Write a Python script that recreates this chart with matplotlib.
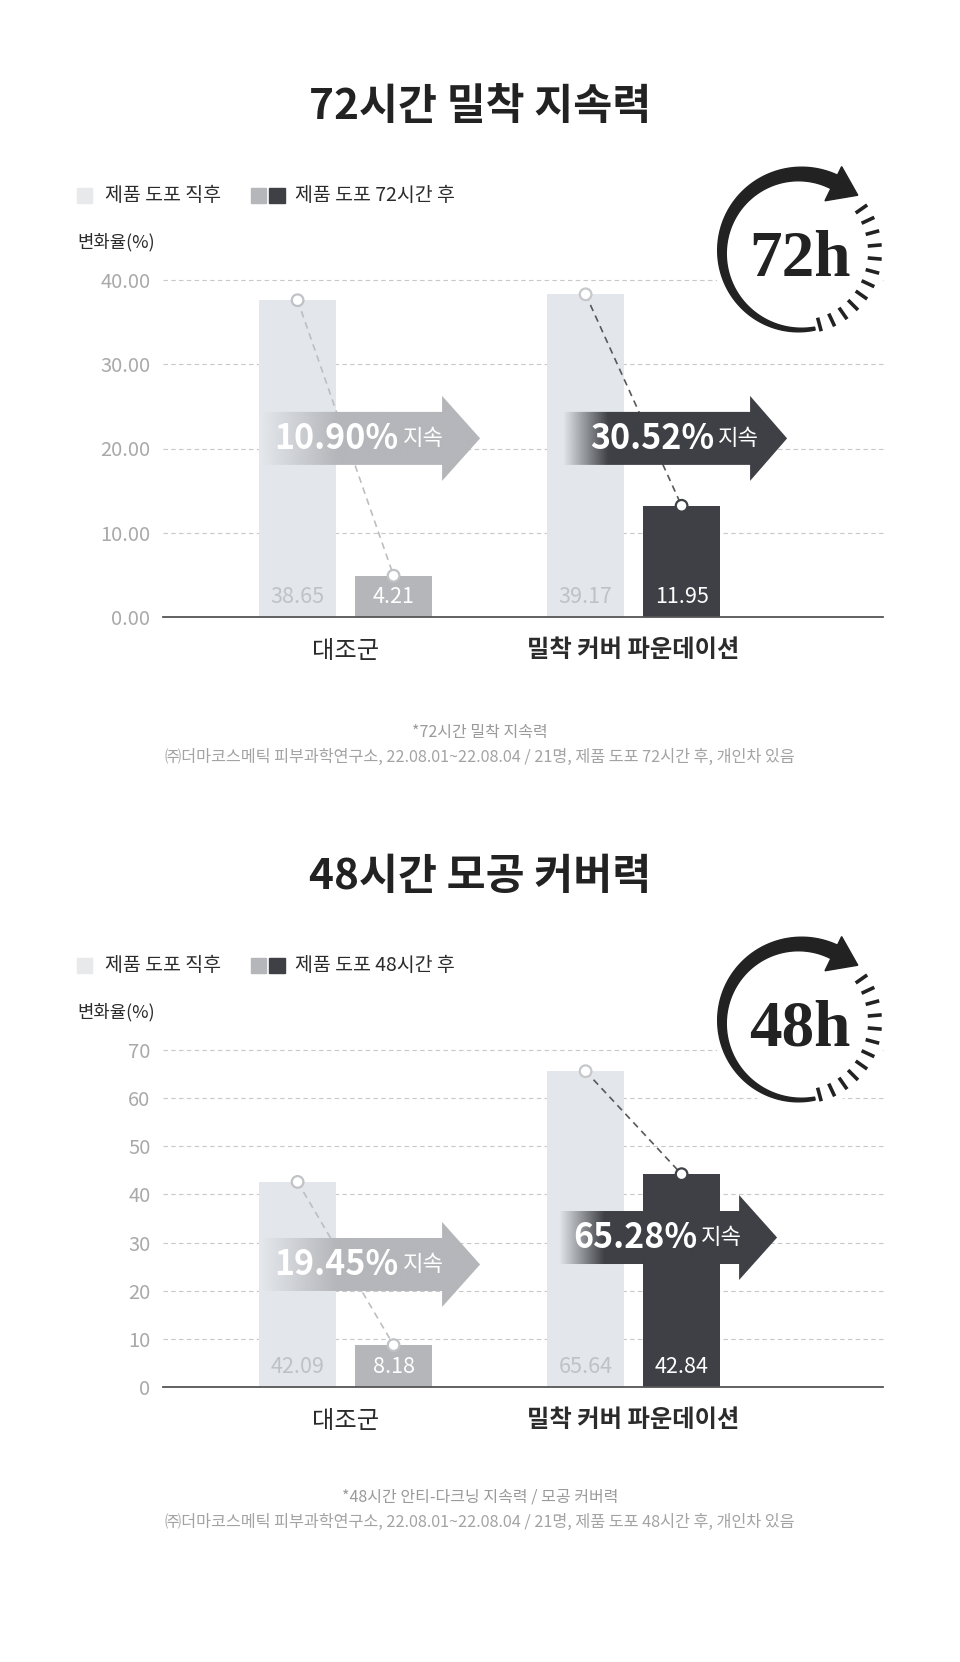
import numpy as np
import matplotlib
matplotlib.use('Agg')
import matplotlib.pyplot as plt
from matplotlib.patches import Polygon, Circle, Rectangle
from matplotlib.colors import to_rgb

plt.rcParams['font.family'] = ['Noto Sans CJK KR', 'DejaVu Sans']

# ---------------- data ----------------
groups = ['대조군', '밀착 커버 파운데이션']
legend_before = '제품 도포 직후'
y_label = '변화율(%)'

# 72시간 밀착 지속력 (bar heights as drawn, labels as printed)
title_72 = '72시간 밀착 지속력'
legend_after_72 = '제품 도포 72시간 후'
before_72 = [37.6, 38.3]
after_72 = [4.9, 13.2]
before_lab_72 = ['38.65', '39.17']
after_lab_72 = ['4.21', '11.95']
keep_72 = ['10.90%', '30.52%']
yticks_72 = [0, 10, 20, 30, 40]
yticklabels_72 = ['0.00', '10.00', '20.00', '30.00', '40.00']
note_72 = ['*72시간 밀착 지속력',
           '㈜더마코스메틱 피부과학연구소, 22.08.01~22.08.04 / 21명, 제품 도포 72시간 후, 개인차 있음']

# 48시간 모공 커버력
title_48 = '48시간 모공 커버력'
legend_after_48 = '제품 도포 48시간 후'
before_48 = [42.6, 65.6]
after_48 = [8.7, 44.2]
before_lab_48 = ['42.09', '65.64']
after_lab_48 = ['8.18', '42.84']
keep_48 = ['19.45%', '65.28%']
yticks_48 = [0, 10, 20, 30, 40, 50, 60, 70]
yticklabels_48 = ['0', '10', '20', '30', '40', '50', '60', '70']
note_48 = ['*48시간 안티-다크닝 지속력 / 모공 커버력',
           '㈜더마코스메틱 피부과학연구소, 22.08.01~22.08.04 / 21명, 제품 도포 48시간 후, 개인차 있음']

# kleuren
c_light = '#e3e6ea'
c_gray = '#b4b6ba'
c_dark = '#3e4045'
c_text = '#2b2b2b'
c_tick = '#a9a9a9'

W, H = 960, 1662
PX = 288.0  # pixels per group unit

fig = plt.figure(figsize=(W / 100, H / 100), dpi=100, facecolor='white')


def pijl(ax, x0, xh, xt, yc, kleur, fade, ymax):
    # pijl met vervagend begin
    sy = ymax / 337.0
    b, h = 26.5 * sy, 42.5 * sy
    pts = [(x0, yc - b), (xh, yc - b), (xh, yc - h), (xt, yc),
           (xh, yc + h), (xh, yc + b), (x0, yc + b)]
    poly = Polygon(pts, closed=True, facecolor='none', edgecolor='none')
    ax.add_patch(poly)
    xs = np.linspace(x0, xt, 400)
    rgba = np.zeros((1, 400, 4))
    rgba[..., :3] = to_rgb(kleur)
    rgba[0, :, 3] = np.clip((xs - x0) / fade, 0, 1)
    im = ax.imshow(rgba, extent=(x0, xt, yc - h, yc + h), aspect='auto',
                   interpolation='bilinear', zorder=5)
    im.set_clip_path(poly)


def grafiek(top_px, ymax, yticks, yticklabels, before, after, before_lab, after_lab, keep, arrows):
    ax = fig.add_axes([163 / W, 1 - (top_px + 337) / H, 720 / W, 337 / H])
    ax.patch.set_alpha(0)
    x = np.arange(len(groups))
    off = 48 / PX
    bw = 77 / PX
    after_cols = [c_gray, c_dark]

    for t in yticks[1:]:
        ax.axhline(t, color='#c8c8c8', lw=0.8, ls=(0, (4, 3)), zorder=0, clip_on=False)

    ax.bar(x - off, before, bw, color=c_light, zorder=2)
    ax.bar(x + off, after, bw, color=after_cols, zorder=2)

    # waarden in de staven
    for i in range(len(groups)):
        ax.annotate(before_lab[i], (x[i] - off, 0), xytext=(0, 14.4), textcoords='offset points',
                    ha='center', va='center', fontsize=15.5, color='#bfc1c5', zorder=3)
        ax.annotate(after_lab[i], (x[i] + off, 0), xytext=(0, 14.4), textcoords='offset points',
                    ha='center', va='center', fontsize=15.5, color='white', zorder=3)

    # stippellijn tussen de punten
    line_cols = ['#bcbec2', '#56585c']
    dot_cols = [['#c0c2c6', '#c0c2c6'], ['#c6c8cc', c_dark]]
    for i in range(len(groups)):
        ax.plot([x[i] - off, x[i] + off], [before[i], after[i]], color=line_cols[i],
                lw=1.2, ls=(0, (4, 3)), zorder=3)
        ax.scatter([x[i] - off, x[i] + off], [before[i], after[i]], s=70, facecolor='white',
                   edgecolors=dot_cols[i], linewidths=1.6, zorder=4)

    # pijlen
    arrow_cols = [c_gray, c_dark]
    fades = [75, 45]
    for i, (a0, ah, at, yc, split) in enumerate(arrows):
        pijl(ax, x[i] + a0 / PX, x[i] + ah / PX, x[i] + at / PX, yc, arrow_cols[i], fades[i] / PX, ymax)
        ax.text(x[i] + (split - 2) / PX, yc, keep[i], ha='right', va='center', fontsize=24.5,
                fontweight='bold', color='white', zorder=6)
        ax.text(x[i] + (split + 2) / PX, yc, '지속', ha='left', va='center', fontsize=16,
                color='white', zorder=6)

    ax.set_xlim(-0.634, 1.866)
    ax.set_ylim(0, ymax)
    ax.set_yticks(yticks)
    ax.set_yticklabels(yticklabels)
    ax.set_xticks(x)
    ax.set_xticklabels(groups)
    for lab, w in zip(ax.get_xticklabels(), ['normal', 'bold']):
        lab.set_fontweight(w)
    ax.tick_params(axis='y', length=0, pad=9, labelsize=14.5, labelcolor=c_tick)
    ax.tick_params(axis='x', length=0, pad=15, labelsize=17.5, labelcolor=c_text)
    for s in ['top', 'right', 'left']:
        ax.spines[s].set_visible(False)
    ax.spines['bottom'].set_color('#555555')
    ax.spines['bottom'].set_linewidth(1.3)
    return ax


ax1 = grafiek(280, 40, yticks_72, yticklabels_72, before_72, after_72, before_lab_72, after_lab_72,
              keep_72, [(-83.5, 96.5, 134.5, 21.2, 55), (-70.5, 116.5, 153.5, 21.2, 82.5)])
ax2 = grafiek(1050, 70, yticks_48, yticklabels_48, before_48, after_48, before_lab_48, after_lab_48,
              keep_48, [(-83.5, 96.5, 134.5, 25.45, 55), (-74.5, 105.5, 143.5, 31.05, 65.5)])

# ---------------- overlay in pixels ----------------
ov = fig.add_axes([0, 0, 1, 1], zorder=10)
ov.set_xlim(0, W)
ov.set_ylim(H, 0)
ov.axis('off')
ov.patch.set_alpha(0)


def klok(cx, cy, label):
    ov.add_patch(Circle((cx, cy), 87, color='white', zorder=1))
    r = 78
    a = np.radians(np.linspace(281, 64, 200))
    w = np.linspace(3, 15, 200)
    outer = np.column_stack([cx + (r + w / 2) * np.cos(a), cy - (r + w / 2) * np.sin(a)])
    inner = np.column_stack([cx + (r - w / 2) * np.cos(a), cy - (r - w / 2) * np.sin(a)])
    ov.add_patch(Polygon(np.vstack([outer, inner[::-1]]), closed=True, color='#222222', zorder=2))
    a1, a2 = np.radians(64), np.radians(44.5)
    head = [(cx + 57 * np.cos(a1), cy - 57 * np.sin(a1)),
            (cx + 95 * np.cos(a1), cy - 95 * np.sin(a1)),
            (cx + 81 * np.cos(a2), cy - 81 * np.sin(a2))]
    ov.add_patch(Polygon(head, closed=True, color='#222222', zorder=2))
    for ang in np.radians(np.linspace(35, -75, 12)):
        ov.plot([cx + 68 * np.cos(ang), cx + 82 * np.cos(ang)],
                [cy - 68 * np.sin(ang), cy - 82 * np.sin(ang)],
                color='#222222', lw=2.6, solid_capstyle='butt', zorder=2)
    ov.text(cx, cy + 23.5, label, ha='center', va='baseline', fontsize=47,
            family='Liberation Serif', fontweight='bold', color='#222222', zorder=3)


def paneel(dy, title, legend_after, notes, hours, note_dy):
    ov.text(480, 107 + dy, title, ha='center', va='center', fontsize=30.5, fontweight='bold', color='#222222')
    ov.add_patch(Rectangle((77, 188 + dy), 15, 15, color='#e8e9eb'))
    ov.text(105, 195.5 + dy, legend_before, ha='left', va='center', fontsize=14, color=c_text)
    ov.add_patch(Rectangle((251, 188 + dy), 15, 15, color=c_gray))
    ov.add_patch(Rectangle((269, 188 + dy), 16, 15, color=c_dark))
    ov.text(295, 195.5 + dy, legend_after, ha='left', va='center', fontsize=14, color=c_text)
    ov.text(77, 242 + dy, y_label, ha='left', va='center', fontsize=12.8, color=c_text)
    klok(800, 252 + dy, hours)
    ov.text(480, 732 + note_dy, notes[0], ha='center', va='center', fontsize=11.5, color='#9a9a9a')
    ov.text(480, 757 + note_dy, notes[1], ha='center', va='center', fontsize=11.7, color='#a3a3a3')


paneel(0, title_72, legend_after_72, note_72, '72h', 0)
paneel(770, title_48, legend_after_48, note_48, '48h', 765)

fig.savefig('out.png', dpi=100, facecolor='white')
